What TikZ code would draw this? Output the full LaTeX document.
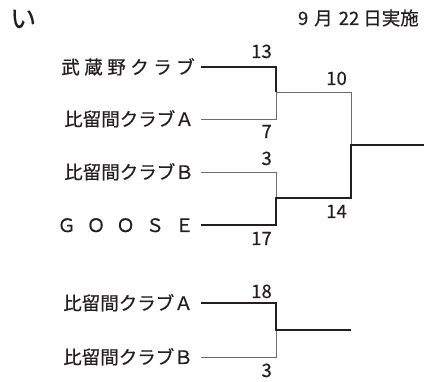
\documentclass[tikz,border=0pt]{standalone}
\usepackage{fontspec}
\setmainfont[FakeBold=0.5]{Noto Sans CJK JP}
\definecolor{ink}{HTML}{231F20}
\definecolor{thinc}{HTML}{6E6A6B}
\tikzset{
  team/.style={anchor=base east, inner sep=0pt, font=\fontsize{18.5}{20}\selectfont, text=ink},
  score/.style={anchor=base east, inner sep=0pt, font=\fontsize{18.5}{20}\selectfont, text=ink},
  win/.style={draw=ink, line width=2.6pt},
  lose/.style={draw=thinc, line width=0.9pt},
}
\begin{document}
\begin{tikzpicture}[x=1pt,y=-1pt]
\useasboundingbox (0,0) rectangle (424,382);
\node[anchor=base west, inner sep=0pt, font=\fontsize{26}{28}\selectfont, text=ink] (ttl) at (10,28) {い};
\node[anchor=base east, inner sep=0pt, font=\fontsize{18.5}{20}\selectfont, text=ink] (date) at (419,25) {9\hspace{6pt}月\hspace{6pt}22\hspace{4pt}日実施};

% bracket 1
\node[team] (t1) at (195,74) {武\hspace{4.5pt}蔵\hspace{4.5pt}野\hspace{4.5pt}ク\hspace{4.5pt}ラ\hspace{4.5pt}ブ};
\node[team] (t2) at (194,126) {比留間クラブＡ};
\node[team] (t3) at (194,179) {比留間クラブＢ};
\node[team] (t4) at (194,232) {Ｇ\hspace{11pt}Ｏ\hspace{11pt}Ｏ\hspace{11pt}Ｓ\hspace{11pt}Ｅ};

\coordinate (a1) at (201,67);
\coordinate (a2) at (201,119);
\coordinate (a3) at (201,172);
\coordinate (a4) at (201,225);
\coordinate (v1) at (276,67);
\coordinate (m1) at (276,92);
\coordinate (v2) at (276,119);
\coordinate (v3) at (276,172);
\coordinate (m2) at (276,198);
\coordinate (v4) at (276,225);
\coordinate (n1) at (351,92);
\coordinate (f) at (351,145);
\coordinate (n2) at (351,198);
\coordinate (end) at (424,145);

\draw[lose] (a2) -- (v2) -- (m1);
\draw[lose] (m1) -- (n1) -- (f);
\draw[lose] (a3) -- (v3) -- (m2);
\draw[win] (a1) -- (v1) -- (m1);
\draw[win] (a4) -- (v4) -- (m2) -- (n2) -- (f) -- (end);

\node[score] (s13) at (272,58) {13};
\node[score] (s7) at (272,138) {7};
\node[score] (s10) at (347,85) {10};
\node[score] (s3) at (272,165) {3};
\node[score] (s17) at (272,245) {17};
\node[score] (s14) at (347,218) {14};

% bracket 2
\node[team] (u1) at (193,310) {比留間クラブＡ};
\node[team] (u2) at (193,364) {比留間クラブＢ};
\coordinate (b1) at (201,303);
\coordinate (b2) at (201,357);
\coordinate (w1) at (276,303);
\coordinate (w2) at (276,357);
\coordinate (k) at (276,330);
\coordinate (kend) at (351,330);
\draw[lose] (b2) -- (w2) -- (k);
\draw[win] (b1) -- (w1) -- (k) -- (kend);
\node[score] (s18) at (272,298) {18};
\node[score] (s3b) at (272,377) {3};
\end{tikzpicture}
\end{document}
